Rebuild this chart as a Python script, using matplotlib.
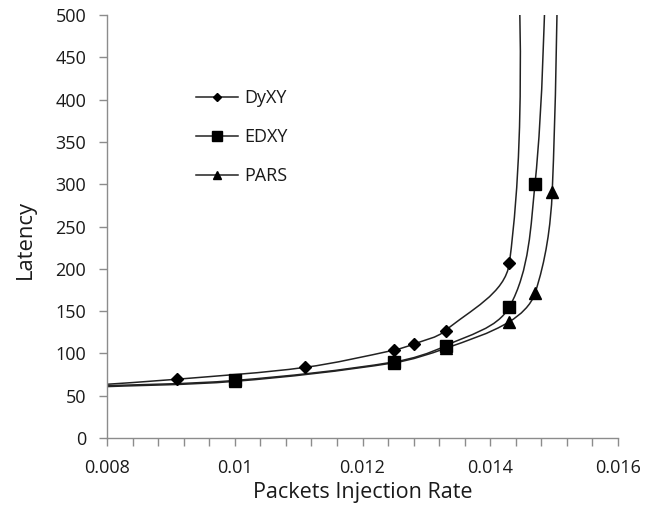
import matplotlib
matplotlib.use('Agg')
import matplotlib.pyplot as plt
from matplotlib.path import Path
from matplotlib.patches import PathPatch
from matplotlib.lines import Line2D
from matplotlib.ticker import MultipleLocator
import numpy as np

# data (points outside the axes are clipped, like in the original)
dyxy_x = [0.0077, 0.0091, 0.0111, 0.0125, 0.0128, 0.0133, 0.0143, 0.01442]
dyxy_y = [62, 69.5, 83.5, 104, 111, 127, 207, 780]
edxy_x = [0.0077, 0.0100, 0.0125, 0.0133, 0.0143, 0.0147, 0.0149]
edxy_y = [61, 68, 90, 109, 155, 300, 600]
pars_x = [0.0077, 0.0100, 0.0125, 0.0133, 0.0143, 0.0147, 0.01497, 0.0151]
pars_y = [60, 67, 89, 106, 137.5, 171, 291, 900]

series = [('DyXY', dyxy_x, dyxy_y, 'D', 6),
          ('EDXY', edxy_x, edxy_y, 's', 9),
          ('PARS', pars_x, pars_y, '^', 8)]

xticks = [0.008, 0.010, 0.012, 0.014, 0.016]
xticklabels = ['0.008', '0.01', '0.012', '0.014', '0.016']
yticks = list(range(0, 501, 50))

plt.rcParams['font.family'] = ['Open Sans', 'DejaVu Sans']
txt = '#1a1a1a'
grey = '#8c8c8c'

fig = plt.figure(figsize=(6.65, 5.15), dpi=100)
ax = fig.add_axes([107/665, 77/515, 511/665, 423/515])
ax.set_xlim(0.008, 0.016)
ax.set_ylim(0, 500)


def smooth_path(xs, ys):
    # smoothed line like the spreadsheet one: bezier segments through the points,
    # tangent direction from the neighbours, handle length from the segment length
    d = ax.transData.transform(np.column_stack([xs, ys]).astype(float))
    n = len(d)
    dirs = []
    for i in range(n):
        a = d[max(i - 1, 0)]
        b = d[min(i + 1, n - 1)]
        v = b - a
        dirs.append(v / np.hypot(*v))
    verts = [d[0]]
    codes = [Path.MOVETO]
    for i in range(n - 1):
        L = np.hypot(*(d[i + 1] - d[i])) / 3.0
        verts += [d[i] + dirs[i] * L, d[i + 1] - dirs[i + 1] * L, d[i + 1]]
        codes += [Path.CURVE4] * 3
    verts = ax.transData.inverted().transform(np.array(verts))
    return Path(verts, codes)


handles = []
for name, xs, ys, mk, ms in series:
    ax.add_patch(PathPatch(smooth_path(xs, ys), fill=False, edgecolor='#222222', lw=1.1))
    ax.plot(xs, ys, ls='none', marker=mk, ms=ms, color='black')
    handles.append(Line2D([], [], color='#222222', lw=1.1, marker=mk, ms=ms * 0.75,
                          markerfacecolor='black', markeredgecolor='black'))

for s in ['top', 'right']:
    ax.spines[s].set_visible(False)
for s in ['left', 'bottom']:
    ax.spines[s].set_color(grey)
    ax.spines[s].set_linewidth(1.0)

ax.set_xticks(xticks)
ax.set_xticklabels(xticklabels)
ax.xaxis.set_minor_locator(MultipleLocator(0.0004))
ax.set_yticks(yticks)
ax.tick_params(axis='both', which='both', direction='out', color=grey, width=1.0,
               labelsize=13, labelcolor=txt)
ax.tick_params(axis='x', which='both', length=6, pad=9)
ax.tick_params(axis='y', length=6, pad=9)

ax.set_xlabel('Packets Injection Rate', fontsize=15.5, color=txt)
ax.set_ylabel('Latency', fontsize=15.8, color=txt)
ax.xaxis.set_label_coords(0.5, -0.105)
ax.yaxis.set_label_coords(-0.140, 0.47)

fig.legend(handles, ['DyXY', 'EDXY', 'PARS'], loc='upper left',
           bbox_to_anchor=(196/665, 1 - 89/515), frameon=False, fontsize=13,
           borderpad=0, borderaxespad=0, labelspacing=1.16, handlelength=2.3,
           handletextpad=0.4, labelcolor=txt)

fig.savefig('out.png', dpi=100)
plt.close()
